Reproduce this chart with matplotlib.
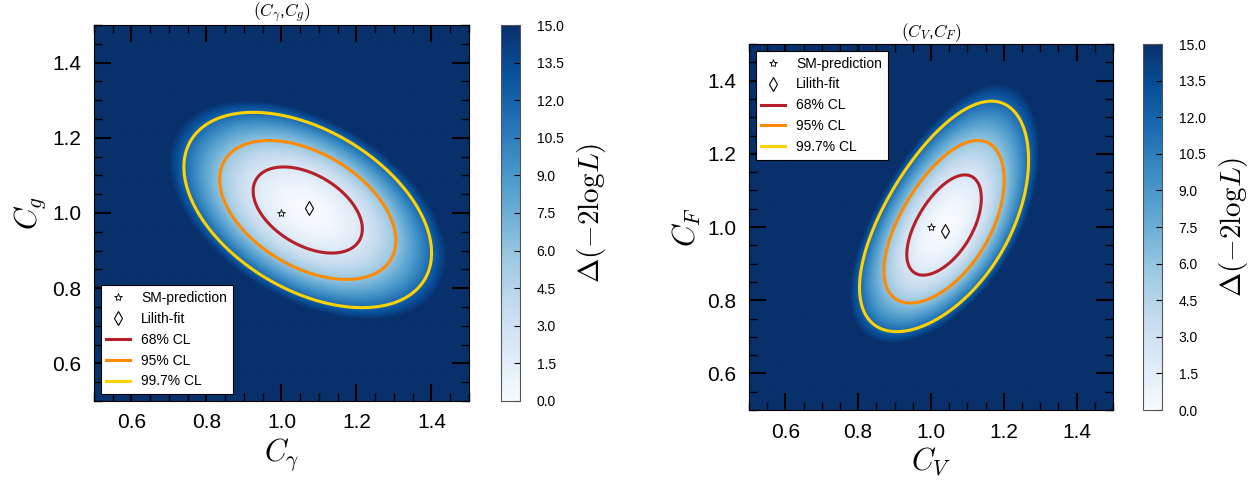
import numpy as np
import matplotlib
matplotlib.use('Agg')
import matplotlib.pyplot as plt
from matplotlib.lines import Line2D
from matplotlib.ticker import MultipleLocator

plt.rcParams['font.family'] = ['Liberation Sans', 'DejaVu Sans']
plt.rcParams['mathtext.fontset'] = 'cm'

# 左图 (C_gamma, C_g) 的拟合结果
fit_ga = [1.074, 1.012]
center_ga = [1.070, 1.008]
sigma_ga = [0.096, 0.0755]
rho_ga = -0.44
skew_ga = 0.0

# 右图 (C_V, C_F) 的拟合结果
fit_vf = [1.038, 0.989]
center_vf = [1.036, 1.000]
sigma_vf = [0.0675, 0.090]
rho_vf = 0.56
skew_vf = 0.29

sm_point = [1.0, 1.0]
cl_levels = [2.30, 5.99, 11.83]
cl_labels = ['68% CL', '95% CL', '99.7% CL']
cl_colors = ['#b51f2a', '#ff8a00', '#ffd200']
cbar_ticks = [0.0, 1.5, 3.0, 4.5, 6.0, 7.5, 9.0, 10.5, 12.0, 13.5, 15.0]
axis_ticks = [0.6, 0.8, 1.0, 1.2, 1.4]


def delta_chi2(X, Y, center, sigma, rho, skew):
    ry = Y - center[1]
    dx = (X - center[0]) / sigma[0]
    dy = (ry - skew * ry**2) / sigma[1]
    return (dx**2 - 2 * rho * dx * dy + dy**2) / (1 - rho**2)


def draw_panel(fig, ax_pos, cax_pos, center, sigma, rho, skew, fit, title, xlabel, ylabel, legend_loc):
    ax = fig.add_axes(ax_pos)
    cax = fig.add_axes(cax_pos)

    g = np.linspace(0.5, 1.5, 400)
    X, Y = np.meshgrid(g, g)
    Z = delta_chi2(X, Y, center, sigma, rho, skew)

    im = ax.imshow(Z, origin='lower', extent=[0.5, 1.5, 0.5, 1.5], cmap='Blues',
                   vmin=0, vmax=15, aspect='auto', interpolation='bilinear')
    ax.contour(X, Y, Z, levels=cl_levels, colors=cl_colors, linewidths=2.2)

    ax.plot(sm_point[0], sm_point[1], ls='none', marker='*', ms=6, mfc='white', mec='black', mew=0.6)
    ax.plot(fit[0], fit[1], ls='none', marker='d', ms=7, mfc='white', mec='black', mew=0.8)

    ax.set_xlim(0.5, 1.5)
    ax.set_ylim(0.5, 1.5)
    ax.set_xticks(axis_ticks)
    ax.set_yticks(axis_ticks)
    ax.xaxis.set_minor_locator(MultipleLocator(0.05))
    ax.yaxis.set_minor_locator(MultipleLocator(0.05))
    ax.tick_params(which='both', direction='in', top=True, right=True, labelsize=15)
    ax.tick_params(which='major', length=12, width=1.5, pad=9)
    ax.tick_params(which='minor', length=6, width=1)

    ax.set_title(title, fontsize=12.5, pad=2)
    ax.set_xlabel(xlabel, fontsize=22, labelpad=3)
    ax.set_ylabel(ylabel, fontsize=22, labelpad=3)

    handles = [
        Line2D([], [], ls='none', marker='*', ms=6, mfc='white', mec='black', mew=0.6),
        Line2D([], [], ls='none', marker='d', ms=7, mfc='white', mec='black', mew=0.8),
    ]
    for c in cl_colors:
        handles.append(Line2D([], [], color=c, lw=2.2))
    labels = ['SM-prediction', 'Lilith-fit'] + cl_labels
    leg = ax.legend(handles, labels, loc=legend_loc, fontsize=10, fancybox=False,
                    framealpha=1, edgecolor='black', handlelength=1.7, borderaxespad=0.5,
                    labelspacing=0.5)
    leg.get_frame().set_linewidth(0.8)

    cb = fig.colorbar(im, cax=cax, ticks=cbar_ticks)
    cb.ax.tick_params(labelsize=10, direction='in', length=4, width=0.8, pad=12)
    cb.ax.set_yticklabels([f'{t:.1f}' for t in cbar_ticks])
    cb.outline.set_edgecolor('#555555')
    cb.set_label(r'$\Delta(-2\mathrm{log}L)$', fontsize=21, labelpad=8)
    return ax


fig = plt.figure(figsize=(12.6, 4.8), dpi=100)

draw_panel(fig, [0.0746, 0.1646, 0.2976, 0.7833], [0.3976, 0.1646, 0.0151, 0.7833],
           center_ga, sigma_ga, rho_ga, skew_ga, fit_ga,
           r'$(C_\gamma$,$C_g)$', r'$C_\gamma$', r'$C_g$', 'lower left')

draw_panel(fig, [0.5944, 0.1458, 0.2889, 0.7625], [0.9071, 0.1458, 0.0151, 0.7625],
           center_vf, sigma_vf, rho_vf, skew_vf, fit_vf,
           r'$(C_V$,$C_F)$', r'$C_V$', r'$C_F$', 'upper left')

fig.savefig('out.png', dpi=100)
